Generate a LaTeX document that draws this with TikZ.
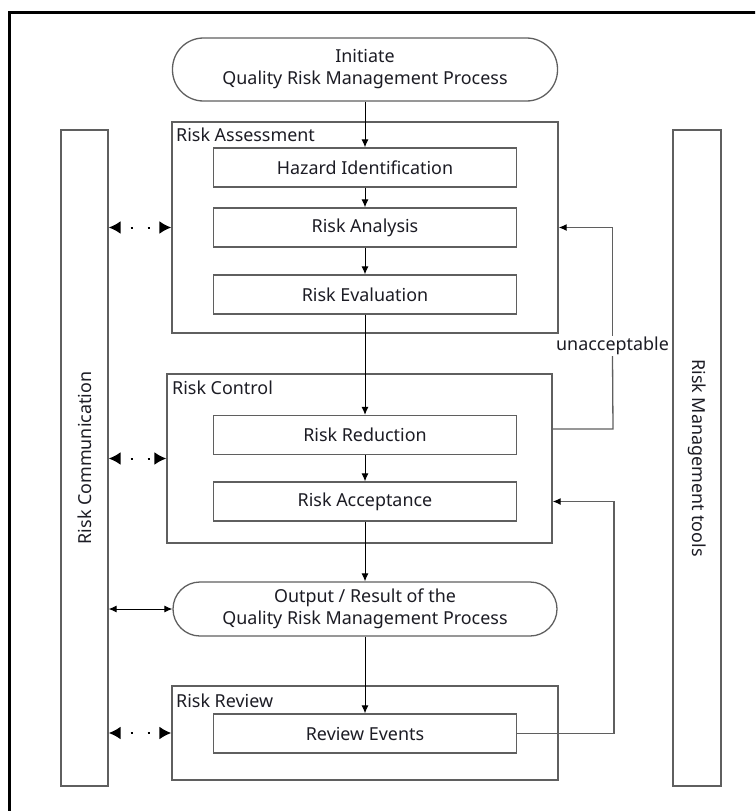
\documentclass[tikz,border=0pt]{standalone}
\usepackage{fontspec}
\setmainfont{Noto Sans}
\usetikzlibrary{arrows.meta}
\definecolor{edge}{HTML}{5F5F5F}
\definecolor{ink}{HTML}{1C1C24}

\begin{document}
\begin{tikzpicture}[x=1pt,y=-1pt,
  every node/.style={font=\fontsize{17.9}{22}\selectfont,text=ink},
  box/.style={draw=edge,line width=1.3pt,minimum width=303pt,minimum height=39pt,inner sep=0pt},
  group/.style={draw=edge,line width=1.3pt,inner sep=0pt},
  term/.style={draw=edge,line width=1.3pt,align=center,inner sep=0pt},
  bar/.style={draw=edge,line width=1.3pt,minimum width=47pt,minimum height=656pt,inner sep=0pt},
  lab/.style={anchor=base west,inner sep=0pt},
  flow/.style={-{Latex[length=8pt,width=7pt]},line width=1pt},
  back/.style={draw=edge,line width=1.3pt},
  tip/.style={-{Latex[length=8pt,width=7pt,color=black]}},
  link/.style={{Latex[length=12pt,width=13pt]}-{Latex[length=12pt,width=13pt]},line width=2pt,dash pattern=on 2pt off 15pt,dash phase=6pt},
  both/.style={{Latex[length=8pt,width=7pt]}-{Latex[length=8pt,width=7pt]},line width=1pt}]
\useasboundingbox (0,0) rectangle (755,811);
\clip (0,0) rectangle (755,811);
\draw[line width=2.5pt] (9.5,840) |- (780,12.5);
% side bars
\node[bar] (comm) at (84.5,458) {};
\node[rotate=90] (commT) at (comm) {Risk Communication};
\node[bar,minimum width=48pt] (tools) at (697,458) {};
\node[rotate=-90] (toolsT) at (tools) {Risk Management tools};
% start
\node[term,minimum width=385pt,minimum height=63pt,rounded corners=31pt] (init) at (365,69.5) {Initiate\\Quality Risk Management Process};
% risk assessment
\node[group,minimum width=386pt,minimum height=211pt] (ra) at (365,227.5) {};
\node[lab] (raT) at (176,141) {Risk Assessment};
\node[box] (haz) at (365,167.5) {Hazard Identification};
\node[box] (ana) at (365,227.5) {Risk Analysis};
\node[box] (eva) at (365,294.5) {Risk Evaluation};
% risk control
\node[group,minimum width=385pt,minimum height=169pt] (rc) at (359.5,458.5) {};
\node[lab] (rcT) at (172,394) {Risk Control};
\node[box] (red) at (365,435) {Risk Reduction};
\node[box] (acc) at (365,501.5) {Risk Acceptance};
% output
\node[term,minimum width=384pt,minimum height=54pt,rounded corners=27pt] (out) at (365,609) {Output / Result of the\\Quality Risk Management Process};
% risk review
\node[group,minimum width=386pt,minimum height=94pt] (rr) at (365,733) {};
\node[lab] (rrT) at (176,707) {Risk Review};
\node[box] (rev) at (365,733.5) {Review Events};
% main flow
\draw[flow] (init) -- (haz);
\draw[flow] (haz) -- (ana);
\draw[flow] (ana) -- (eva);
\draw[flow] (eva) -- (red);
\draw[flow] (red) -- (acc);
\draw[flow] (acc) -- (out);
\draw[flow] (out) -- (rev);
% loops back
\node[inner sep=1pt] (ua) at (612.5,346) {unacceptable};
\coordinate (fa) at (613,429);
\coordinate (fb) at (614,501.5);
\draw[back] (rc.east |- fa) -- (fa) -- (ua.south);
\draw[back,tip] (ua.north) |- (ra.east |- ana);
\draw[back,tip] (rev.east) -| (fb) -- (rc.east |- fb);
% communication
\draw[link] (comm.east |- ana) -- (ra.west |- ana);
\draw[link] (comm.east |- rc) -- (rc.west);
\draw[both] (comm.east |- out) -- (out.west);
\draw[link] (comm.east |- rr) -- (rr.west);
\end{tikzpicture}
\end{document}
